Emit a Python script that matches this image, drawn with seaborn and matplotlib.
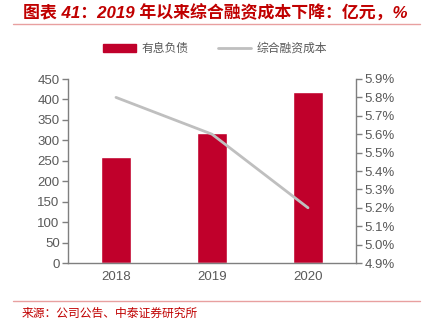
import matplotlib
matplotlib.use("Agg")
import matplotlib.pyplot as plt
import seaborn as sns
import pandas as pd
from matplotlib.ticker import FuncFormatter, MultipleLocator
from matplotlib.lines import Line2D
from matplotlib.patches import Patch

years = ["2018", "2019", "2020"]
debt = [260, 319, 419]
cost = [5.8, 5.6, 5.2]
bar_label = "有息负债"
line_label = "综合融资成本"
title = "图表 41：2019 年以来综合融资成本下降：亿元，%"
source = "来源：公司公告、中泰证券研究所"

sns.set_theme(style="white")
plt.rcParams['font.family'] = ['Liberation Sans', 'Noto Sans CJK SC', 'DejaVu Sans']

df = pd.DataFrame({"year": years, "debt": debt, "cost": cost})

fig = plt.figure(figsize=(4.26, 3.24), dpi=100)
ax = fig.add_axes([68/426, 1-263/324, 288/426, 184/324])
sns.barplot(data=df, x="year", y="debt", color="#C0002B", width=0.31, ax=ax, saturation=1)
ax.set_xlim(-0.5, 2.5)
ax.set_ylim(0, 450)
ax.yaxis.set_major_locator(MultipleLocator(50))
ax.set_xlabel("")
ax.set_ylabel("")

ax2 = ax.twinx()
sns.lineplot(x=[0, 1, 2], y=df["cost"], color="#BFBFBF", linewidth=2, ax=ax2)
ax2.set_ylim(4.9, 5.9)
ax2.yaxis.set_major_locator(MultipleLocator(0.1))
ax2.yaxis.set_major_formatter(FuncFormatter(lambda v, p: f"{v:.1f}%"))
ax2.set_ylabel("")
ax.set_xlim(-0.5, 2.5)

gray = "#7F7F7F"
for a in (ax, ax2):
    a.spines["top"].set_visible(False)
    for s in ["left", "right", "bottom"]:
        a.spines[s].set_color(gray)
        a.spines[s].set_linewidth(1)
    a.tick_params(axis="y", colors="#595959", labelsize=9.5, length=4, width=1, color=gray, direction="out", pad=2)
    a.tick_params(axis="x", colors="#595959", labelsize=9.5, length=0, pad=6)
ax.spines["right"].set_visible(False)
ax2.spines["left"].set_visible(False)
ax2.spines["bottom"].set_visible(False)
ax.tick_params(axis="y", left=True)
ax2.tick_params(axis="y", right=True)

handles = [Patch(color="#C0002B"), Line2D([0], [0], color="#BFBFBF", linewidth=2)]
fig.legend(handles, [bar_label, line_label], loc="center", bbox_to_anchor=(215/426, 1-49/324),
           ncol=2, frameon=False, fontsize=8.5, labelcolor="#595959", handlelength=2.8,
           handleheight=0.6, columnspacing=2.5, handletextpad=0.5)

fig.text(23/426, 1-13/324, title, color="#C00000", fontsize=12.2, fontweight="bold",
         fontstyle="italic", va="center", ha="left")
fig.add_artist(Line2D([13/426, 420/426], [1-23.5/324, 1-23.5/324], color="#E8A0A0", linewidth=1))
fig.add_artist(Line2D([13/426, 420/426], [1-301/324, 1-301/324], color="#E8A0A0", linewidth=1))
fig.text(22/426, 1-314/324, source, color="#C00000", fontsize=8.5, va="center", ha="left")

fig.savefig("out.png", dpi=100)
